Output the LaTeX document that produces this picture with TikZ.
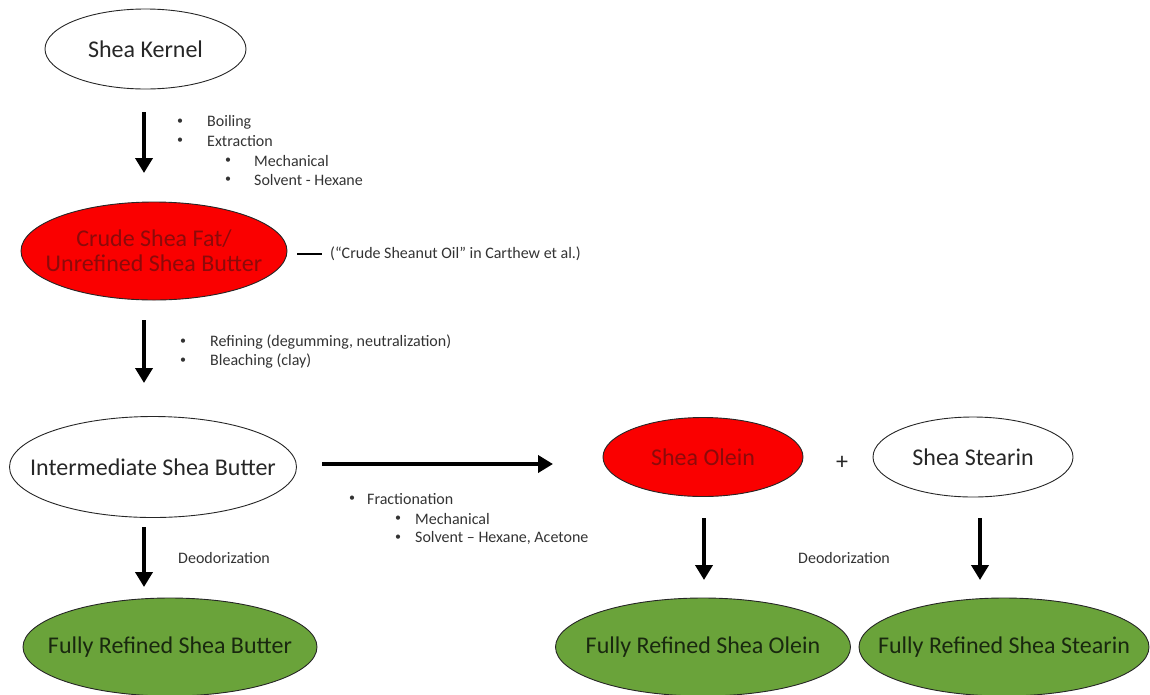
\documentclass[tikz,border=0pt]{standalone}
\usepackage{fontspec}
\setmainfont{Carlito}
\usetikzlibrary{shapes.geometric,arrows.meta}
\definecolor{crudered}{RGB}{250,0,0}
\definecolor{darkredtxt}{RGB}{140,10,10}
\definecolor{greenfill}{RGB}{106,163,58}
\definecolor{greentxt}{RGB}{25,40,15}
\tikzset{
  oval/.style={ellipse,draw=black!85,line width=0.9pt,inner sep=0pt},
  ovaltext/.style={label={[font=\fontsize{24}{25}\selectfont,text=black!85,align=center]center:#1}},
  redtext/.style={label={[font=\fontsize{24}{25}\selectfont,text=darkredtxt,align=center]center:#1}},
  greentext/.style={label={[font=\fontsize{24}{25}\selectfont,text=greentxt,align=center]center:#1}},
  redoval/.style={oval,fill=crudered},
  greenoval/.style={oval,fill=greenfill},
  bigarrow/.style={line width=4pt,-{Triangle[length=15pt,width=17pt]}},
  note/.style={anchor=west,inner sep=0pt,font=\fontsize{16}{18}\selectfont,text=black!80},
  bul/.style={anchor=center,inner sep=0pt,font=\fontsize{12}{14}\selectfont,text=black!80}
}
\begin{document}
\begin{tikzpicture}[x=1pt,y=-1pt]
\useasboundingbox (0,0) rectangle (1150,694);
% nodes
\node[oval,minimum width=201pt,minimum height=80pt,ovaltext={Shea Kernel}] (kernel) at (145.5,49) {};
\node[redoval,minimum width=266pt,minimum height=98pt,redtext={Crude Shea Fat/\\Unrefined Shea Butter}] (crude) at (154,251) {};
\node[oval,minimum width=287pt,minimum height=101pt,ovaltext={Intermediate Shea Butter}] (inter) at (153,467) {};
\node[redoval,minimum width=200pt,minimum height=79pt,redtext={Shea Olein}] (olein) at (703,457) {};
\node[oval,minimum width=200pt,minimum height=80pt,ovaltext={Shea Stearin}] (stearin) at (973,457) {};
\node[greenoval,minimum width=294pt,minimum height=98pt,greentext={Fully Refined Shea Butter}] (frbutter) at (170,647) {};
\node[greenoval,minimum width=295pt,minimum height=98pt,greentext={Fully Refined Shea Olein}] (frolein) at (703,647) {};
\node[greenoval,minimum width=290pt,minimum height=98pt,greentext={Fully Refined Shea Stearin}] (frstearin) at (1004,647) {};
\node[inner sep=0pt,font=\fontsize{24}{26}\selectfont,text=black!85] (plus) at (842,463) {+};
% arrow coordinates
\coordinate (a1s) at (144,112); \coordinate (a1e) at (144,173);
\coordinate (a2s) at (144,320); \coordinate (a2e) at (144,383);
\coordinate (a3s) at (144,527); \coordinate (a3e) at (144,587);
\coordinate (a4s) at (322,464); \coordinate (a4e) at (553,464);
\coordinate (a5s) at (704,518); \coordinate (a5e) at (704,580);
\coordinate (a6s) at (980,518); \coordinate (a6e) at (980,580);
\draw[bigarrow] (a1s) -- (a1e);
\draw[bigarrow] (a2s) -- (a2e);
\draw[bigarrow] (a3s) -- (a3e);
\draw[bigarrow] (a4s) -- (a4e);
\draw[bigarrow] (a5s) -- (a5e);
\draw[bigarrow] (a6s) -- (a6e);
% notes step 1
\node[bul] (b1) at (180,122) {•};
\node[note] (t1) at (207,122) {Boiling};
\node[bul] (b2) at (180,141) {•};
\node[note] (t2) at (207,141) {Extraction};
\node[bul] (b3) at (228,161) {•};
\node[note] (t3) at (254,161) {Mechanical};
\node[bul] (b4) at (228,180) {•};
\node[note] (t4) at (254,180) {Solvent - Hexane};
% crude side note
\coordinate (d1) at (297,254); \coordinate (d2) at (322,254);
\draw[line width=2pt] (d1) -- (d2);
\node[note] (cnote) at (330,254) {(“Crude Sheanut Oil” in Carthew et al.)};
% notes step 2
\node[bul] (b5) at (183,342) {•};
\node[note] (t5) at (210,342) {Refining (degumming, neutralization)};
\node[bul] (b6) at (183,361) {•};
\node[note] (t6) at (210,361) {Bleaching (clay)};
% fractionation
\node[bul] (b7) at (352,499) {•};
\node[note] (t7) at (367,499) {Fractionation};
\node[bul] (b8) at (398,519) {•};
\node[note] (t8) at (415,519) {Mechanical};
\node[bul] (b9) at (398,538) {•};
\node[note] (t9) at (415,538) {Solvent – Hexane, Acetone};
% deodorization
\node[note] (deo1) at (178,558) {Deodorization};
\node[note] (deo2) at (798,558) {Deodorization};
\end{tikzpicture}
\end{document}
